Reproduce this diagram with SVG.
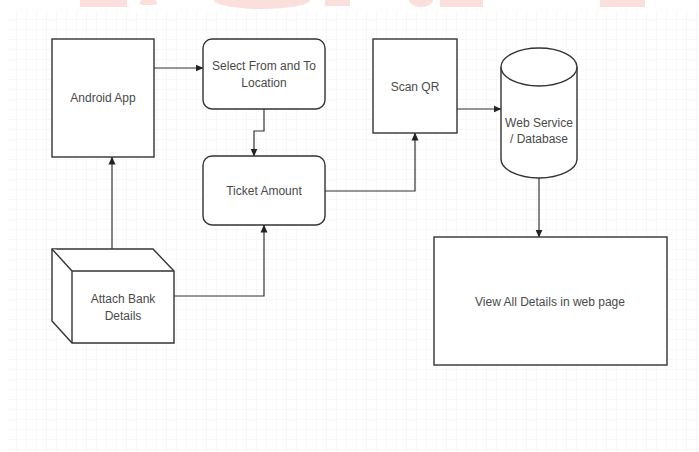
<svg xmlns="http://www.w3.org/2000/svg" width="699" height="452" viewBox="0 0 699 452">
  <defs>
    <pattern id="grid" x="7" y="10" width="10" height="10" patternUnits="userSpaceOnUse">
      <path d="M10,0 V10 M0,10 H10" fill="none" stroke="#f0f0f0" stroke-width="1"/>
    </pattern>
    <marker id="arr" viewBox="0 0 8 8" refX="7.5" refY="4" markerWidth="8" markerHeight="8" markerUnits="userSpaceOnUse" orient="auto">
      <path d="M0,0.5 L8,4 L0,7.5 Z" fill="#222"/>
    </marker>
    <style>
      .box { fill: #ffffff; stroke: #333333; stroke-width: 1.4; }
      .edge { fill: none; stroke: #333333; stroke-width: 1.2; marker-end: url(#arr); }
      .lbl { font-family: "Liberation Sans", Arial, sans-serif; font-size: 12px; fill: #4a4a4a; text-anchor: middle; }
      .wm { fill: #f9d2ce; }
    </style>
  </defs>
  <rect width="699" height="452" fill="#ffffff"/>
  <rect x="7" y="10" width="692" height="442" fill="url(#grid)"/>
  <g id="watermark" opacity="0.7">
    <rect class="wm" x="80" y="0" width="47" height="7"/>
    <rect class="wm" x="140" y="0" width="17" height="5" rx="3"/>
    <ellipse class="wm" cx="262" cy="0" rx="48" ry="9"/>
    <rect class="wm" x="325" y="0" width="25" height="6"/>
    <ellipse class="wm" cx="421" cy="0" rx="12" ry="7"/>
    <rect class="wm" x="440" y="0" width="43" height="7"/>
    <rect class="wm" x="600" y="0" width="45" height="7"/>
  </g>
  <g id="connectors">
    <path class="edge" d="M154,68 H203"/>
    <path class="edge" d="M264,109 V131 H254 V156"/>
    <path class="edge" d="M112,249 V157"/>
    <path class="edge" d="M174,296 H264 V225"/>
    <path class="edge" d="M325,191 H415 V133"/>
    <path class="edge" d="M457,109 H501"/>
    <path class="edge" d="M539,178 V237"/>
  </g>
  <g id="android-app">
    <rect class="box" x="52" y="39" width="102" height="118"/>
    <text class="lbl" x="103" y="102">Android App</text>
  </g>
  <g id="select-location">
    <rect class="box" x="203" y="39" width="122" height="70" rx="9"/>
    <text class="lbl" x="264" y="70">Select From and To</text>
    <text class="lbl" x="264" y="87">Location</text>
  </g>
  <g id="ticket-amount">
    <rect class="box" x="203" y="156" width="122" height="69" rx="9"/>
    <text class="lbl" x="264" y="195">Ticket Amount</text>
  </g>
  <g id="attach-bank">
    <path class="box" d="M52,249 H153 L174,271 V343 H72 L52,321 Z"/>
    <path class="box" d="M52,249 L72,271 H174 M72,271 V343" fill="none"/>
    <text class="lbl" x="123" y="303">Attach Bank</text>
    <text class="lbl" x="123" y="320">Details</text>
  </g>
  <g id="scan-qr">
    <rect class="box" x="373" y="39" width="84" height="94"/>
    <text class="lbl" x="415" y="91">Scan QR</text>
  </g>
  <g id="web-service">
    <path class="box" d="M501,67 A38,19 0 0 1 577,67 V159 A38,19 0 0 1 501,159 Z"/>
    <path class="box" d="M501,67 A38,19 0 0 0 577,67" fill="none"/>
    <text class="lbl" x="539" y="127">Web Service</text>
    <text class="lbl" x="539" y="143">/ Database</text>
  </g>
  <g id="view-details">
    <rect class="box" x="434" y="237" width="233" height="128"/>
    <text class="lbl" x="550" y="306">View All Details in web page</text>
  </g>
</svg>
